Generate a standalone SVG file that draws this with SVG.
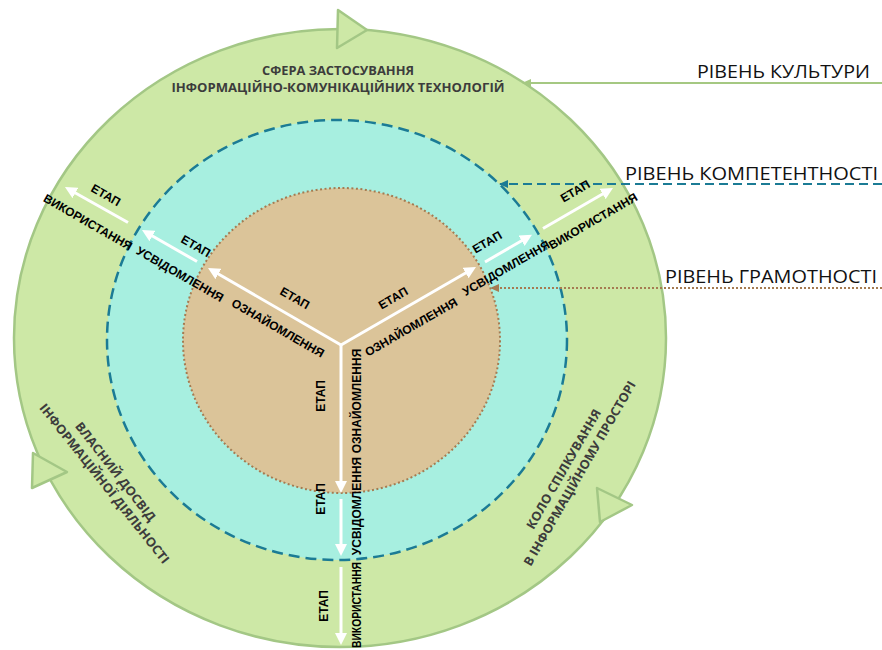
<svg xmlns="http://www.w3.org/2000/svg" width="882" height="650" viewBox="0 0 882 650">
<defs>
<style>
.stage{font-family:"Liberation Sans",Arial,sans-serif;font-weight:bold;font-size:12px;fill:#000;text-anchor:middle}
.ring{font-family:"Open Sans","Liberation Sans",sans-serif;font-weight:bold;font-size:12.5px;fill:#3c3c3c;text-anchor:middle}
.lvl{font-family:"Open Sans","Liberation Sans",sans-serif;font-size:18.5px;fill:#111}
.warr{stroke:#fff;stroke-width:3;fill:none;marker-end:url(#wa)}
.tri{fill:#cde8a6;stroke:#a3c785;stroke-width:2.5;stroke-linejoin:round}
</style>
<marker id="wa" markerWidth="12" markerHeight="12" refX="3" refY="6" orient="auto" markerUnits="userSpaceOnUse"><path d="M0,0 L12,6 L0,12 z" fill="#fff"/></marker>
<marker id="ga" markerWidth="9" markerHeight="8" refX="8" refY="4" orient="auto" markerUnits="userSpaceOnUse"><path d="M0,0 L9,4 L0,8 z" fill="#a5c882"/></marker>
<marker id="ta" markerWidth="9" markerHeight="8" refX="8" refY="4" orient="auto" markerUnits="userSpaceOnUse"><path d="M0,0 L9,4 L0,8 z" fill="#1b7b95"/></marker>
<marker id="ba" markerWidth="9" markerHeight="8" refX="8" refY="4" orient="auto" markerUnits="userSpaceOnUse"><path d="M0,0 L9,4 L0,8 z" fill="#a57b51"/></marker>
</defs>

<g id="culture-ring">
<ellipse cx="340" cy="338" rx="326" ry="309" fill="#cde8a6" stroke="#a3c785" stroke-width="2.5"/>
<polygon class="tri" points="338,10 367,30 337,48"/>
<polygon class="tri" points="33,453 67,472 32,488"/>
<polygon class="tri" points="597,488 632,505 600,522"/>
<text class="ring" x="338" y="75" textLength="152" lengthAdjust="spacingAndGlyphs">СФЕРА ЗАСТОСУВАННЯ</text>
<text class="ring" x="338" y="92" textLength="333" lengthAdjust="spacingAndGlyphs">ІНФОРМАЦІЙНО-КОМУНІКАЦІЙНИХ ТЕХНОЛОГІЙ</text>
<text class="ring" transform="translate(115.5,471.5) rotate(52)" y="4.5" textLength="122" lengthAdjust="spacingAndGlyphs">ВЛАСНИЙ ДОСВІД</text>
<text class="ring" transform="translate(104.5,483.5) rotate(51.5)" y="4.5" textLength="200" lengthAdjust="spacingAndGlyphs">ІНФОРМАЦІЙНОЇ ДІЯЛЬНОСТІ</text>
<text class="ring" transform="translate(563.5,469) rotate(-60)" y="4.5" textLength="136" lengthAdjust="spacingAndGlyphs">КОЛО СПІЛКУВАННЯ</text>
<text class="ring" transform="translate(579.5,473.5) rotate(-60)" y="4.5" textLength="211" lengthAdjust="spacingAndGlyphs">В ІНФОРМАЦІЙНОМУ ПРОСТОРІ</text>
</g>

<g id="competence-ring">
<ellipse cx="337" cy="340" rx="230" ry="220" fill="#a7efe0" stroke="#1b7b95" stroke-width="2.5" stroke-dasharray="11 6"/>
</g>

<g id="literacy-core">
<ellipse cx="341.5" cy="340.5" rx="158.5" ry="152.5" fill="#dbc499" stroke="#a57b51" stroke-width="2" stroke-dasharray="2 2.5"/>
</g>

<g id="connectors">
<path class="warr" d="M341,345 L215.8,272.5"/>
<path class="warr" d="M197,261.5 L149.8,234.5"/>
<path class="warr" d="M128,222.5 L72.8,191.5"/>
<path class="warr" d="M341,345 L468.2,271.5"/>
<path class="warr" d="M485,262 L524.2,239.2"/>
<path class="warr" d="M543,228.5 L605.2,192.5"/>
<path class="warr" d="M341,345 L341,484"/>
<path class="warr" d="M341,499 L341,547"/>
<path class="warr" d="M341,567 L341,636"/>
<path d="M882,83 L523,83" stroke="#a5c882" stroke-width="2" fill="none" marker-end="url(#ga)"/>
<path d="M882,184 L500,184" stroke="#1b7b95" stroke-width="2" stroke-dasharray="9 5" fill="none" marker-end="url(#ta)"/>
<path d="M882,288 L491,288" stroke="#a57b51" stroke-width="2" stroke-dasharray="2 2" fill="none" marker-end="url(#ba)"/>
</g>

<g id="stage-labels">
<text class="stage" transform="translate(295,298) rotate(30)" y="4.3">ЕТАП</text>
<text class="stage" transform="translate(278,328) rotate(30)" y="4.3">ОЗНАЙОМЛЕННЯ</text>
<text class="stage" transform="translate(196,246) rotate(30)" y="4.3">ЕТАП</text>
<text class="stage" transform="translate(180,274) rotate(30)" y="4.3">УСВІДОМЛЕННЯ</text>
<text class="stage" transform="translate(106,195) rotate(30)" y="4.3">ЕТАП</text>
<text class="stage" transform="translate(88,222) rotate(30)" y="4.3">ВИКОРИСТАННЯ</text>
<text class="stage" transform="translate(393,298) rotate(-30)" y="4.3">ЕТАП</text>
<text class="stage" transform="translate(411,327) rotate(-30)" y="4.3">ОЗНАЙОМЛЕННЯ</text>
<text class="stage" transform="translate(487,242) rotate(-30)" y="4.3">ЕТАП</text>
<text class="stage" transform="translate(506,268) rotate(-30)" y="4.3">УСВІДОМЛЕННЯ</text>
<text class="stage" transform="translate(575,191) rotate(-30)" y="4.3">ЕТАП</text>
<text class="stage" transform="translate(593,221) rotate(-30)" y="4.3">ВИКОРИСТАННЯ</text>
<text class="stage" transform="translate(321,396) rotate(-90)" y="4.3">ЕТАП</text>
<text class="stage" transform="translate(357,401) rotate(-90)" y="4.3">ОЗНАЙОМЛЕННЯ</text>
<text class="stage" transform="translate(321,499) rotate(-90)" y="4.3">ЕТАП</text>
<text class="stage" transform="translate(357,506) rotate(-90)" y="4.3">УСВІДОМЛЕННЯ</text>
<text class="stage" transform="translate(324,606) rotate(-90)" y="4.3">ЕТАП</text>
<text class="stage" transform="translate(357,605) rotate(-90)" y="4.3" textLength="86" lengthAdjust="spacingAndGlyphs">ВИКОРИСТАННЯ</text>
</g>

<g id="level-labels">
<text class="lvl" x="697" y="78" textLength="173" lengthAdjust="spacingAndGlyphs">РІВЕНЬ КУЛЬТУРИ</text>
<text class="lvl" x="625" y="180" textLength="253" lengthAdjust="spacingAndGlyphs">РІВЕНЬ КОМПЕТЕНТНОСТІ</text>
<text class="lvl" x="665" y="283" textLength="212" lengthAdjust="spacingAndGlyphs">РІВЕНЬ ГРАМОТНОСТІ</text>
</g>
</svg>
